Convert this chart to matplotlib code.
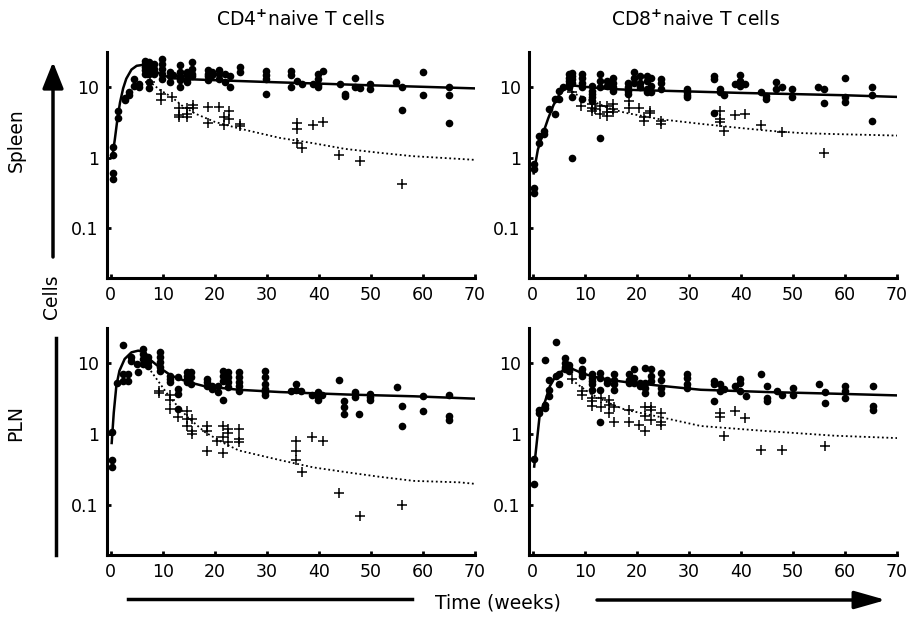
import matplotlib
matplotlib.use('Agg')
import matplotlib.pyplot as plt
from matplotlib.patches import FancyArrowPatch
from matplotlib.lines import Line2D

# ---- data: (week, [cell counts]) ----
spl_cd4_dots = [
    (0.5, [1.4, 1.1, 0.6, 0.5]), (1.5, [4.6, 3.6]), (2.7, [6.5, 7.0]), (3.5, [8.5, 7.6]),
    (4.5, [12.8, 10.3]), (5.4, [11.1, 9.8]), (6.6, [22.9, 21.2, 19, 17.1, 15.4]),
    (7.4, [22.4, 20, 17, 15.4, 11.7, 9.7]), (8.4, [21, 18, 15.4]), (9.8, [25, 21, 18, 15.4, 13]),
    (11.4, [16.3, 14.2, 11.7]), (12.0, [14.5]), (13.3, [20, 16.3, 14.2, 12.4, 10]),
    (14.6, [16.3, 14.5, 13, 11.7]), (15.7, [22.4, 18, 15.4, 14]), (18.8, [17, 15.4, 14, 12.4]),
    (19.4, [16.3, 14.5]), (20.9, [17.1, 15.4, 13]), (22.0, [15.4, 11.7]), (23.0, [14, 10]),
    (24.8, [19, 16.3]), (29.8, [16.6, 14.5, 12.8, 8]), (34.7, [16.6, 14.7, 9.8]), (35.8, [12]),
    (36.8, [11.1]), (38.9, [11.1]), (39.8, [15.4, 13, 10.5, 9.8]), (40.8, [16.6]), (44.0, [11.1]),
    (45.0, [8, 7.5]), (46.9, [13.4, 10]), (48.0, [9.5]), (49.9, [11.1, 9.3]), (54.9, [11.7]),
    (56.0, [10, 4.7]), (60.0, [16.3, 7.6]), (65.1, [9.8, 7.6, 3.05]),
]
spl_cd4_cross = [
    (7.5, [11.7]), (9.7, [8, 6.5]), (11.7, [7.2]), (13.1, [5, 4, 3.8]), (14.6, [5, 4.1, 3.8]),
    (15.9, [5.5, 5.1]), (18.7, [5.2, 3.05]), (20.8, [5.2]), (21.8, [3.8, 2.9]), (22.7, [4.6, 3.5]),
    (24.8, [3, 2.8]), (35.8, [3.05, 2.55, 1.6]), (36.8, [1.37]), (38.9, [2.9]), (40.8, [3.2]),
    (43.9, [1.1]), (47.9, [0.9]), (56.0, [0.42]),
]
spl_cd4_fit_t = [0.3, 0.8, 1.3, 1.8, 2.4, 3, 4, 5, 6, 7, 8, 9, 10, 12, 15, 20, 30, 40, 50, 60, 70]
spl_cd4_fit = [1.0, 1.8, 3.5, 6, 9.5, 13, 17.5, 19.8, 20.3, 19.6, 18, 16, 14.5, 13.2, 12.8, 12.4,
               11.7, 11.1, 10.5, 10, 9.5]
spl_cd4_sub_t = [7, 8, 9.5, 11.7, 13.6, 16.2, 20, 24.5, 32.5, 38.9, 45, 51.7, 58, 67, 70]
spl_cd4_sub = [14, 11, 9, 7.2, 5.5, 4.2, 3.2, 2.6, 1.9, 1.6, 1.33, 1.17, 1.05, 0.96, 0.93]

spl_cd8_dots = [
    (0.3, [0.81, 0.69, 0.37, 0.32]), (1.2, [2.03, 1.6]), (2.1, [2.4, 2.15]), (3.2, [4.8]),
    (4.2, [6.7, 4.1]), (5.0, [8.8, 6.7]), (5.9, [9.8]), (6.9, [15, 13.5, 12.2, 11, 9.8]),
    (7.5, [15.9, 14.3, 12.8, 11.5, 7.1, 1.0]), (9.5, [15, 13.5, 11.5, 9.8, 6.7]),
    (11.4, [10.3, 8.8, 7.9, 7.1, 6.3]), (13.0, [15, 12.2, 9.8, 1.9]), (14.3, [12.2, 10.3]),
    (15.4, [13.5, 11.5, 9.8, 8.8]), (18.4, [11.5, 9.8, 8.8, 7.9]), (19.5, [16.2, 13.5, 11.5]),
    (20.7, [14.3, 11.5, 9.8]), (22.0, [14.3, 12.2, 9.3, 8.4]), (22.7, [13.5, 10.3, 8.4]),
    (24.6, [12.8, 11.5, 9.3]), (29.6, [9.3, 8.4, 7.6, 7.1]), (34.8, [14.3, 12.8, 4.3]),
    (35.9, [9.3, 8.4]), (36.8, [7.6]), (38.8, [10.9]), (39.8, [14.6, 12.2, 10.3]), (40.8, [10.9]),
    (43.9, [8.5]), (44.9, [7.5, 6.7]), (46.8, [11.7, 9.3]), (47.9, [9.8]), (49.8, [9.3, 7.1]),
    (54.9, [9.8]), (56.0, [9.3, 6.0]), (60.0, [13.5, 7.1, 6.1]), (65.2, [9.8, 7.6, 3.3]),
]
spl_cd8_cross = [
    (7.5, [8.5]), (9.3, [5.4]), (11.4, [5.7, 5.1, 4.6]), (12.0, [4.8]), (13.0, [5.4, 4.1]),
    (14.3, [5.4, 4.4, 3.9]), (15.4, [5.7, 4.8, 4.4]), (18.6, [6.3, 5.1]), (20.4, [5.1]),
    (21.4, [3.7, 3.3]), (22.5, [4.6, 4.2]), (24.6, [3.3, 3.0]), (35.9, [4.6, 3.5, 3.2]),
    (36.8, [2.4]), (38.8, [4.0]), (40.8, [4.1]), (43.9, [2.9]), (47.9, [2.27]), (56.0, [1.18]),
]
spl_cd8_fit_t = [0.2, 1, 2, 3, 4, 5, 6, 7, 8, 10, 15, 20, 30, 40, 50, 60, 70]
spl_cd8_fit = [0.6, 1.3, 2.2, 3.6, 5.5, 7.5, 9.2, 10.2, 10.4, 10.0, 9.3, 9.0, 8.6, 8.2, 7.9, 7.6, 7.2]
spl_cd8_sub_t = [7, 8.2, 11.4, 14.6, 17.8, 24.3, 32.3, 38.8, 45.3, 51.7, 58.2, 70]
spl_cd8_sub = [9.5, 7.9, 6.3, 5.0, 4.3, 3.5, 3.0, 2.67, 2.4, 2.22, 2.15, 2.05]

pln_cd4_dots = [
    (0.3, [1.07, 0.43, 0.34]), (1.2, [5.2]), (2.4, [18.1, 7.0, 5.6]), (3.3, [7.0, 5.5]),
    (4.0, [12, 10.8]), (5.0, [9.7]), (5.3, [7.4]), (6.2, [15.7, 13.4, 11.4, 9.7]),
    (7.2, [12, 10.2, 9.2]), (9.5, [14.1, 12, 10.2, 8.7, 7.8]), (11.4, [6.6, 5.9, 5.4]),
    (13.0, [6.3, 4.3, 3.7, 2.27]), (14.6, [7.4, 6.6, 6.0, 5.4]), (15.4, [7.4, 6.3, 5.1]),
    (18.5, [6.0, 5.4, 4.8]), (19.4, [4.8, 4.3]), (20.6, [4.8, 3.9]), (21.5, [7.8, 6.6, 5.6, 3.0]),
    (22.6, [7.4, 6.3, 5.4, 4.6]), (24.6, [7.4, 6.3, 5.4, 4.8, 4.1]),
    (29.7, [7.8, 6.3, 5.1, 4.3, 3.9, 3.5]), (34.7, [4.1]), (35.7, [5.1, 4.2]), (36.6, [4.1]),
    (38.7, [3.5]), (39.8, [3.9, 3.3, 3.0]), (40.6, [3.5]), (43.9, [5.8]), (44.8, [2.9, 2.4, 1.9]),
    (46.9, [3.9, 3.3]), (47.8, [1.9]), (49.8, [3.7, 3.3, 3.0]), (55.0, [4.6]), (55.9, [2.5, 1.32]),
    (60.0, [3.4, 2.08]), (65.1, [3.55, 1.77, 1.6]),
]
pln_cd4_cross = [
    (9.3, [4.1, 3.8]), (11.4, [3.5, 3.0, 2.27]), (13.0, [1.75]), (14.6, [2.1, 1.65, 1.3]),
    (15.6, [1.65, 1.1, 1.0]), (18.6, [1.28, 1.1, 0.58]), (20.5, [0.8]), (21.5, [1.32, 0.91, 0.54]),
    (22.6, [1.18, 1.05, 0.77]), (24.6, [1.18, 0.86, 0.77]), (35.7, [0.79, 0.58, 0.43]),
    (36.8, [0.29]), (38.7, [0.9]), (40.8, [0.8]), (43.9, [0.15]), (47.9, [0.07]), (55.9, [0.101]),
]
pln_cd4_fit_t = [0.2, 0.6, 1.1, 1.7, 2.7, 4, 5.3, 6.6, 7.8, 9.8, 11.7, 14.9, 18.1, 24.6, 32.6, 45.5, 58.3, 70]
pln_cd4_fit = [0.75, 2.0, 4.8, 7.8, 11.4, 14.1, 14.9, 14.1, 10.8, 8.2, 6.6, 5.4, 4.7, 4.2, 3.9, 3.6, 3.4, 3.15]
pln_cd4_sub_t = [7.2, 9.1, 11.1, 13, 14.9, 18.1, 21.4, 24.6, 32.6, 39, 45.5, 51.9, 58.3, 67, 70]
pln_cd4_sub = [8.7, 5.6, 3.5, 2.4, 1.7, 1.07, 0.77, 0.59, 0.43, 0.34, 0.29, 0.25, 0.22, 0.21, 0.2]

pln_cd8_dots = [
    (0.3, [0.45, 0.2]), (1.2, [2.2, 2.0]), (2.4, [11.1, 2.6, 2.3]), (3.2, [5.8, 4.2, 3.4]),
    (4.4, [20, 6.5]), (5.0, [6.9, 5.0]), (6.2, [11.8, 10, 8.9, 8.1]), (6.9, [9.5, 8.5, 7.6]),
    (9.5, [11.1, 8.1, 7.2, 6.5]), (11.4, [6.9, 6.2, 5.5, 5.0, 4.2]), (13.0, [7.2, 6.2, 4.2, 1.5]),
    (14.2, [5.8, 5.2]), (15.6, [6.9, 5.8, 5.0, 4.2]), (18.5, [6.9, 5.8, 5.2]), (19.4, [8.1, 6.2, 5.2]),
    (20.7, [5.2, 4.7]), (21.6, [8.5, 5.2, 4.4, 3.8]), (22.7, [8.1, 6.5, 5.5]),
    (24.6, [7.2, 5.8, 4.4, 3.8]), (29.7, [6.9, 6.2, 5.0, 4.4]), (34.8, [5.5, 5.0, 2.9]),
    (35.9, [5.0, 4.0]), (36.8, [4.3]), (38.8, [4.8]), (39.9, [6.0, 5.2, 4.0]), (40.9, [3.4]),
    (43.9, [6.9]), (45.0, [4.8, 3.2, 2.9]), (47.0, [4.1]), (48.0, [3.5]), (50.0, [4.5, 3.5]),
    (55.0, [5.1]), (56.2, [3.9, 2.7]), (60.0, [4.8, 4.1, 3.2]), (65.3, [4.8, 2.5, 2.2]),
]
pln_cd8_cross = [
    (7.5, [6.0]), (9.5, [4.0, 3.6]), (11.4, [3.2, 2.9, 2.5]), (13.2, [3.2, 2.4]),
    (14.6, [3.05, 2.6, 2.0]), (15.6, [2.4, 1.5]), (18.5, [2.2, 1.5]), (20.4, [1.36]),
    (21.6, [2.4, 1.8, 1.1]), (22.7, [2.4, 2.2, 1.6]), (24.6, [2.0, 1.5, 1.36]), (35.9, [2.0, 1.75]),
    (36.8, [0.95]), (38.9, [2.1]), (40.8, [1.7]), (43.9, [0.59]), (48.0, [0.59]), (56.2, [0.68]),
]
pln_cd8_fit_t = [0.3, 1.4, 2.4, 3.3, 4.6, 6.2, 7.2, 9.5, 11.4, 14.6, 17.8, 24.3, 32.3, 45.2, 58, 70]
pln_cd8_fit = [0.35, 2.0, 2.9, 4.7, 6.9, 8.1, 8.5, 7.2, 6.5, 5.8, 5.4, 4.8, 4.2, 3.9, 3.7, 3.5]
pln_cd8_sub_t = [7.5, 9.5, 11.4, 14.6, 17.8, 24.3, 32.3, 45.2, 58, 70]
pln_cd8_sub = [5.8, 4.5, 3.6, 2.75, 2.2, 1.75, 1.3, 1.1, 0.95, 0.88]

titles = ['CD4$^{\\mathbf{+}}$naive T cells', 'CD8$^{\\mathbf{+}}$naive T cells']
yticks = [0.1, 1, 10]
ytick_labels = ['0.1', '1', '10']
xticks = [0, 10, 20, 30, 40, 50, 60, 70]


def flat(groups):
    ts, vs = [], []
    for t, vals in groups:
        for v in vals:
            ts.append(t)
            vs.append(v)
    return ts, vs


W, H = 915, 617
fig = plt.figure(figsize=(W / 100, H / 100), dpi=100)


def px(x, y):
    return x / W, 1 - y / H


panels = [
    ([107, 52, 475, 278], spl_cd4_dots, spl_cd4_cross, spl_cd4_fit_t, spl_cd4_fit, spl_cd4_sub_t, spl_cd4_sub),
    ([529, 52, 897, 278], spl_cd8_dots, spl_cd8_cross, spl_cd8_fit_t, spl_cd8_fit, spl_cd8_sub_t, spl_cd8_sub),
    ([107, 328, 475, 555], pln_cd4_dots, pln_cd4_cross, pln_cd4_fit_t, pln_cd4_fit, pln_cd4_sub_t, pln_cd4_sub),
    ([529, 328, 897, 555], pln_cd8_dots, pln_cd8_cross, pln_cd8_fit_t, pln_cd8_fit, pln_cd8_sub_t, pln_cd8_sub),
]

for box, dots, cross, fit_t, fit, sub_t, sub in panels:
    x0, y0, x1, y1 = box
    ax = fig.add_axes([x0 / W, 1 - y1 / H, (x1 - x0) / W, (y1 - y0) / H])
    ax.set_yscale('log')
    dt, dv = flat(dots)
    ct, cv = flat(cross)
    ax.plot(sub_t, sub, color='k', lw=1.3, ls=(0, (1, 1.5)), zorder=2)
    ax.plot(fit_t, fit, color='k', lw=1.8, zorder=3)
    ax.plot(dt, dv, 'o', color='k', ms=5.5, mew=0, zorder=4)
    ax.plot(ct, cv, '+', color='k', ms=7, mew=1.1, zorder=4)
    ax.set_xlim(-0.7, 70)
    ax.set_ylim(0.02, 31)
    ax.set_yticks(yticks, ytick_labels)
    ax.yaxis.set_minor_locator(matplotlib.ticker.NullLocator())
    ax.set_xticks(xticks)
    for s in ['top', 'right']:
        ax.spines[s].set_visible(False)
    for s in ['left', 'bottom']:
        ax.spines[s].set_linewidth(2.2)
    ax.tick_params(direction='in', length=3, width=2, labelsize=12.5, pad=6)
    ax.set_clip_on(False)

fig.text(*px(300, 20), titles[0], ha='center', va='center', fontsize=13.5)
fig.text(*px(695, 20), titles[1], ha='center', va='center', fontsize=13.5)
fig.text(*px(16, 140), 'Spleen', rotation=90, ha='center', va='center', fontsize=13.5)
fig.text(*px(16, 423), 'PLN', rotation=90, ha='center', va='center', fontsize=13.5)
fig.text(*px(52, 297), 'Cells', rotation=90, ha='center', va='center', fontsize=13.5)
fig.text(*px(498, 603), 'Time (weeks)', ha='center', va='center', fontsize=13.5)

# axis arrows
fig.add_artist(FancyArrowPatch(px(53, 257), px(53, 62), transform=fig.transFigure,
                               arrowstyle='-|>,head_length=0.8,head_width=0.32',
                               mutation_scale=20, lw=2.5, color='k', shrinkA=0, shrinkB=0))
fig.add_artist(Line2D([55.5 / W, 55.5 / W], [1 - 338 / H, 1 - 555 / H], color='k', lw=2.5,
                      transform=fig.transFigure))
fig.add_artist(Line2D([128 / W, 412 / W], [1 - 599 / H, 1 - 599 / H], color='k', lw=2.5,
                      transform=fig.transFigure))
fig.add_artist(FancyArrowPatch(px(597, 600), px(886, 600), transform=fig.transFigure,
                               arrowstyle='-|>,head_length=0.95,head_width=0.27',
                               mutation_scale=20, lw=2.5, color='k', shrinkA=0, shrinkB=0))

fig.savefig('out.png', dpi=100)
